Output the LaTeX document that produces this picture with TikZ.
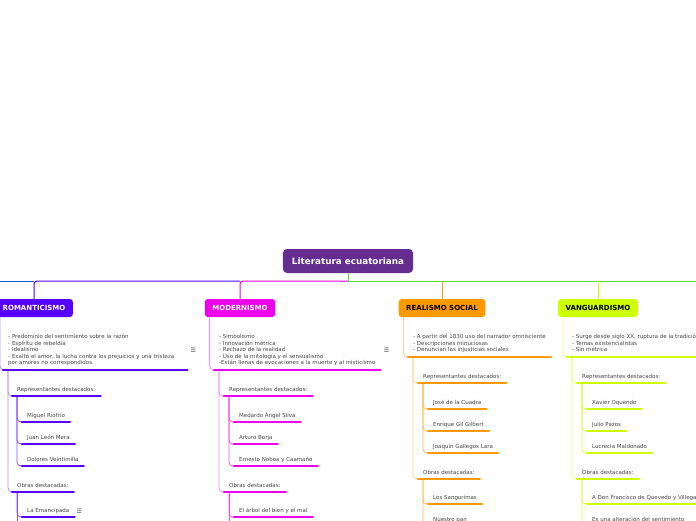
\documentclass[tikz,border=0pt]{standalone}
\usepackage{fontspec}
\setmainfont{DejaVu Sans}
\usetikzlibrary{calc}
\definecolor{litroot}{HTML}{662D91}
\definecolor{litrom}{HTML}{5500FF}
\definecolor{litmod}{HTML}{EE00EE}
\definecolor{litrea}{HTML}{FF9900}
\definecolor{litvan}{HTML}{CCFF00}
\definecolor{litgreen}{HTML}{55DD22}
\definecolor{litblue}{HTML}{1E5AE6}
\definecolor{litink}{HTML}{444444}
\tikzset{
  rootbox/.style={fill=litroot, text=white, rounded corners=4pt, minimum height=24pt, inner xsep=9pt, font=\fontsize{8.8}{10}\selectfont\bfseries},
  topic/.style={rounded corners=3pt, minimum height=18pt, inner xsep=7.5pt, font=\fontsize{7}{8}\selectfont\bfseries},
  note/.style={anchor=south west, align=left, inner xsep=5pt, inner ysep=3pt, font=\fontsize{5.5}{6.5}\selectfont, text=litink, execute at end node=\strut},
  leaf/.style={anchor=south west, inner xsep=5pt, inner ysep=3pt, text height=4pt, text depth=1.5pt, font=\fontsize{5.5}{6.5}\selectfont, text=litink},
  menu/.style={anchor=west, inner sep=0pt, font=\fontsize{6}{6}\selectfont, text=litink},
  ul/.style={line width=2.5pt, line cap=round},
  trunk/.style={line width=0.8pt, rounded corners=4pt},
  stem/.style={line width=1pt, rounded corners=3pt},
}
\begin{document}
\begin{tikzpicture}[x=1pt, y=-1pt]
  \useasboundingbox (0,0) rectangle (696,520);
  \clip (0,0) rectangle (696,520);

  % centre and main topics
  \node[rootbox] (root) at (348,261) {Literatura ecuatoriana};
  \node[topic, fill=litrom, text=white] (rom) at (34,308) {ROMANTICISMO};
  \node[topic, fill=litmod, text=white] (mod) at (240,308) {MODERNISMO};
  \node[topic, fill=litrea, text=black] (rea) at (442,308) {REALISMO SOCIAL};
  \node[topic, fill=litvan, text=black] (van) at (598,308) {VANGUARDISMO};
  \coordinate (hub) at (348,281);
  \coordinate (edgeL) at (-5,281);
  \coordinate (edgeR) at (700,281);

  \draw[stem, litgreen] (root.south) -- (hub);
  \draw[stem, litgreen] (hub) -- (edgeR);
  \draw[stem, litmod] (hub) -| (mod.north);
  \draw[stem, litrom] (hub -| mod.north) -| (rom.north);
  \draw[stem, litblue] (hub -| rom.north) -- (edgeL);
  \draw[stem, litrea] (hub -| rea.north) -- (rea.north);
  \draw[stem, litvan] (hub -| van.north) -- (van.north);

  % romanticismo
  \node[note, text width=174pt] (romD) at (3,370) {- Predominio del sentimiento sobre la razón\\- Espíritu de rebeldía\\- Idealismo\\- Exaltó el amor, la lucha contra los prejuicios y una tristeza\\por amores no correspondidos.};
  \node[leaf] (romR) at (12,396) {Representantes destacados:};
  \node[leaf] (romR1) at (22,422) {Miguel Riofrío};
  \node[leaf] (romR2) at (22,444) {Juan León Mera};
  \node[leaf] (romR3) at (22,466) {Dolores Veintimilla};
  \node[leaf] (romO) at (12,492) {Obras destacadas:};
  \node[leaf] (romO1) at (22,517) {La Emancipada};
  \node[menu] (romDm) at ([xshift=3pt]romD.east) {☰};
  \node[menu] (romO1m) at ([xshift=2pt]romO1.east) {☰};
  \coordinate (romEnd) at (17,530);
  \draw[trunk, litrom!45] ([xshift=5pt]rom.south west) |- (romD.south west);
  \draw[trunk, litrom!45] ([xshift=5pt]romD.south west) |- (romR.south west);
  \draw[trunk, litrom!45] ([xshift=5pt]romD.south west) |- (romO.south west);
  \foreach \n in {R1,R2,R3} \draw[trunk, litrom!70] ([xshift=5pt]romR.south west) |- (rom\n.south west);
  \draw[trunk, litrom!70] ([xshift=5pt]romO.south west) |- (romO1.south west);
  \draw[trunk, litrom!70] ([xshift=5pt]romO.south west) -- (romEnd);
  \foreach \n in {D,R,R1,R2,R3,O,O1} \draw[ul, litrom] (rom\n.south west) -- (rom\n.south east);

  % modernismo
  \node[note] (modD) at (214,370) {- Simbolismo\\- Innovación métrica\\- Rechazo de la realidad\\- Uso de la mitología y el sensualismo\\-Están llenas de evocaciones a la muerte y al misticismo};
  \node[leaf] (modR) at (224,396) {Representantes destacados:};
  \node[leaf] (modR1) at (234,422) {Medardo Ángel Silva};
  \node[leaf] (modR2) at (234,444) {Arturo Borja};
  \node[leaf] (modR3) at (234,466) {Ernesto Noboa y Caamaño};
  \node[leaf] (modO) at (224,492) {Obras destacadas:};
  \node[leaf] (modO1) at (234,517) {El árbol del bien y el mal};
  \node[menu] (modDm) at ([xshift=3pt]modD.east) {☰};
  \coordinate (modEnd) at (229,530);
  \draw[trunk, litmod!45] ([xshift=5pt]mod.south west) |- (modD.south west);
  \draw[trunk, litmod!45] ([xshift=5pt]modD.south west) |- (modR.south west);
  \draw[trunk, litmod!45] ([xshift=5pt]modD.south west) |- (modO.south west);
  \foreach \n in {R1,R2,R3} \draw[trunk, litmod!70] ([xshift=5pt]modR.south west) |- (mod\n.south west);
  \draw[trunk, litmod!70] ([xshift=5pt]modO.south west) |- (modO1.south west);
  \draw[trunk, litmod!70] ([xshift=5pt]modO.south west) -- (modEnd);
  \foreach \n in {D,R,R1,R2,R3,O,O1} \draw[ul, litmod] (mod\n.south west) -- (mod\n.south east);

  % realismo social
  \node[note] (reaD) at (408,357) {- A partir del 1830 uso del narrador omnisciente\\- Descripciones minuciosas\\- Denuncian las injusticias sociales};
  \node[leaf] (reaR) at (418,383) {Representantes destacados:};
  \node[leaf] (reaR1) at (428,409) {José de la Cuadra};
  \node[leaf] (reaR2) at (428,431) {Enrique Gil Gilbert};
  \node[leaf] (reaR3) at (428,453) {Joaquín Gallegos Lara};
  \node[leaf] (reaO) at (418,479) {Obras destacadas:};
  \node[leaf] (reaO1) at (428,504) {Los Sangurimas};
  \node[leaf] (reaO2) at (428,526) {Nuestro pan};
  \draw[trunk, litrea!45] ([xshift=5pt]rea.south west) |- (reaD.south west);
  \draw[trunk, litrea!45] ([xshift=5pt]reaD.south west) |- (reaR.south west);
  \draw[trunk, litrea!45] ([xshift=5pt]reaD.south west) |- (reaO.south west);
  \foreach \n in {R1,R2,R3} \draw[trunk, litrea!70] ([xshift=5pt]reaR.south west) |- (rea\n.south west);
  \foreach \n in {O1,O2} \draw[trunk, litrea!70] ([xshift=5pt]reaO.south west) |- (rea\n.south west);
  \foreach \n in {D,R,R1,R2,R3,O,O1,O2} \draw[ul, litrea] (rea\n.south west) -- (rea\n.south east);

  % vanguardismo
  \node[note] (vanD) at (567,357) {- Surge desde siglo XX, ruptura de la tradición\\- Temas existencialistas\\- Sin métrica};
  \node[leaf] (vanR) at (577,383) {Representantes destacados:};
  \node[leaf] (vanR1) at (587,409) {Xavier Oquendo};
  \node[leaf] (vanR2) at (587,431) {Julio Pazos};
  \node[leaf] (vanR3) at (587,453) {Lucrecia Maldonado};
  \node[leaf] (vanO) at (577,479) {Obras destacadas:};
  \node[leaf] (vanO1) at (587,504) {A Don Francisco de Quevedo y Villegas};
  \node[leaf] (vanO2) at (587,526) {Es una alteración del sentimiento};
  \draw[trunk, litvan!60] ([xshift=5pt]van.south west) |- (vanD.south west);
  \draw[trunk, litvan!60] ([xshift=5pt]vanD.south west) |- (vanR.south west);
  \draw[trunk, litvan!60] ([xshift=5pt]vanD.south west) |- (vanO.south west);
  \foreach \n in {R1,R2,R3} \draw[trunk, litvan!80] ([xshift=5pt]vanR.south west) |- (van\n.south west);
  \foreach \n in {O1,O2} \draw[trunk, litvan!80] ([xshift=5pt]vanO.south west) |- (van\n.south west);
  \foreach \n in {D,R,R1,R2,R3,O,O1,O2} \draw[ul, litvan] (van\n.south west) -- (van\n.south east);
\end{tikzpicture}
\end{document}
